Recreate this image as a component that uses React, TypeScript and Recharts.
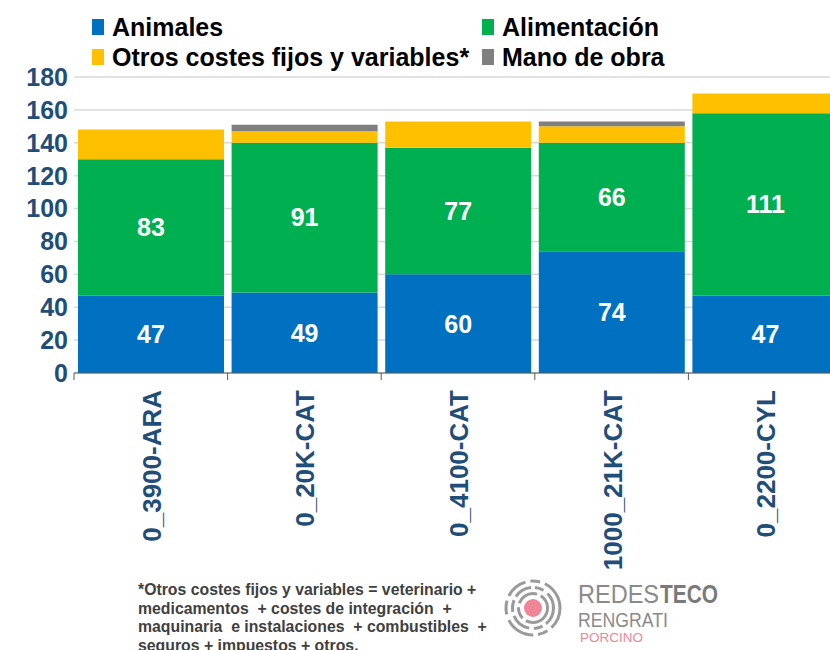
import React from "react";
import {
  BarChart,
  Bar,
  XAxis,
  YAxis,
  CartesianGrid,
  LabelList,
} from "recharts";

const categories = ["0_3900-ARA", "0_20K-CAT", "0_4100-CAT", "1000_21K-CAT", "0_2200-CYL"];
const animales = [47, 49, 60, 74, 47];
const alimentacion = [83, 91, 77, 66, 111];
const otros = [18, 7, 16, 10, 12];
const manoObra = [0, 4, 0, 3, 0];
const yTicks = [0, 20, 40, 60, 80, 100, 120, 140, 160, 180];

const series = [
  { key: "animales", name: "Animales", color: "#0070C0", labels: true },
  { key: "alimentacion", name: "Alimentación", color: "#00B050", labels: true },
  { key: "otros", name: "Otros costes fijos y variables*", color: "#FFC000", labels: false },
  { key: "manoObra", name: "Mano de obra", color: "#7F7F7F", labels: false },
];

const footnote = [
  "*Otros costes fijos y variables = veterinario +",
  "medicamentos  + costes de integración  +",
  "maquinaria  e instalaciones  + combustibles  +",
  "seguros + impuestos + otros.",
];

const data = categories.map((name, i) => ({
  name,
  animales: animales[i],
  alimentacion: alimentacion[i],
  otros: otros[i],
  manoObra: manoObra[i],
}));

const FONT = "'Liberation Sans', Arial, sans-serif";
const NAVY = "#1F4E79";
const CHART_W = 842;
const CHART_H = 650;
const Y_AXIS_W = 74;
const BAND = (CHART_W - Y_AXIS_W) / categories.length;

// category label + tick mark at the left edge of each band
const XTick = (props: any) => {
  const { x, y, payload } = props;
  return (
    <g>
      <line x1={x - BAND / 2} y1={y} x2={x - BAND / 2} y2={y + 7} stroke="#595959" strokeWidth={1} />
      <text
        x={x + 1}
        y={y + 17}
        transform={`rotate(-90, ${x + 1}, ${y + 17})`}
        textAnchor="end"
        dominantBaseline="central"
        fill={NAVY}
        fontSize={26}
        fontWeight="bold"
        fontFamily={FONT}
      >
        {payload.value}
      </text>
    </g>
  );
};

const legendPos = [
  { left: 92, top: 14 },
  { left: 482, top: 14 },
  { left: 92, top: 44 },
  { left: 482, top: 44 },
];

const Logo = () => (
  <svg width={240} height={80} style={{ position: "absolute", left: 500, top: 570 }}>
    <g fill="none" stroke="#9a9a9a" strokeWidth={3}>
      <circle cx={33} cy={38} r={27} strokeDasharray="22 5 10 5 30 6 14 5" />
      <circle cx={33} cy={38} r={20.5} strokeDasharray="18 4 9 5 20 4 12 4" />
      <circle cx={33} cy={38} r={14.5} strokeDasharray="30 4 12 4 22 4" />
    </g>
    <circle cx={33} cy={38} r={9} fill="#EE8697" />
    <text x={78} y={33} fontFamily={FONT} fontSize={25} fill="#8a8a8a" textLength={81} lengthAdjust="spacingAndGlyphs">
      REDES
    </text>
    <text x={160} y={33} fontFamily={FONT} fontSize={25} fontWeight="bold" fill="#7a7a7a" textLength={58} lengthAdjust="spacingAndGlyphs">
      TECO
    </text>
    <text x={78} y={57} fontFamily={FONT} fontSize={20} fill="#8a8a8a" textLength={90} lengthAdjust="spacingAndGlyphs">
      RENGRATI
    </text>
    <text x={80} y={72} fontFamily={FONT} fontSize={13} fill="#EE8697" textLength={63} lengthAdjust="spacingAndGlyphs">
      PORCINO
    </text>
  </svg>
);

export default function App() {
  return (
    <div
      style={{
        position: "absolute",
        left: 0,
        top: 0,
        width: 830,
        height: 650,
        overflow: "hidden",
        background: "#fff",
        fontFamily: FONT,
      }}
    >
      <BarChart
        width={CHART_W}
        height={CHART_H}
        data={data}
        margin={{ top: 77, right: 0, bottom: 0, left: 0 }}
        barCategoryGap={4}
      >
        <CartesianGrid vertical={false} stroke="#d9d9d9" strokeWidth={1.5} />
        <YAxis
          width={Y_AXIS_W}
          domain={[0, 180]}
          ticks={yTicks}
          interval={0}
          axisLine={false}
          tickLine={false}
          tickSize={0}
          tickMargin={6}
          tick={{ fill: NAVY, fontSize: 25, fontWeight: "bold", fontFamily: FONT }}
        />
        <XAxis
          dataKey="name"
          height={CHART_H - 77 - 296}
          interval={0}
          tickLine={false}
          tickSize={0}
          tickMargin={0}
          axisLine={{ stroke: "#595959", strokeWidth: 1 }}
          tick={<XTick />}
        />
        {series.map((s) => (
          <Bar key={s.key} dataKey={s.key} stackId="a" fill={s.color} isAnimationActive={false}>
            {s.labels && (
              <LabelList
                dataKey={s.key}
                position="center"
                fill="#ffffff"
                fontSize={25}
                fontWeight="bold"
                fontFamily={FONT}
              />
            )}
          </Bar>
        ))}
      </BarChart>

      {series.map((s, i) => (
        <div
          key={s.key}
          style={{
            position: "absolute",
            left: legendPos[i].left,
            top: legendPos[i].top,
            display: "flex",
            alignItems: "center",
            fontSize: 25,
            fontWeight: "bold",
            color: "#000",
            lineHeight: "26px",
            whiteSpace: "nowrap",
          }}
        >
          <span style={{ display: "inline-block", width: 12, height: 16, background: s.color, marginRight: 8 }} />
          {s.name}
        </div>
      ))}

      <div
        style={{
          position: "absolute",
          left: 138,
          top: 581,
          fontSize: 17,
          fontWeight: "bold",
          lineHeight: "18.5px",
          color: "#404040",
          whiteSpace: "pre",
          transform: "scaleX(0.93)",
          transformOrigin: "left top",
        }}
      >
        {footnote.map((line, i) => (
          <div key={i}>{line}</div>
        ))}
      </div>

      <Logo />
    </div>
  );
}
